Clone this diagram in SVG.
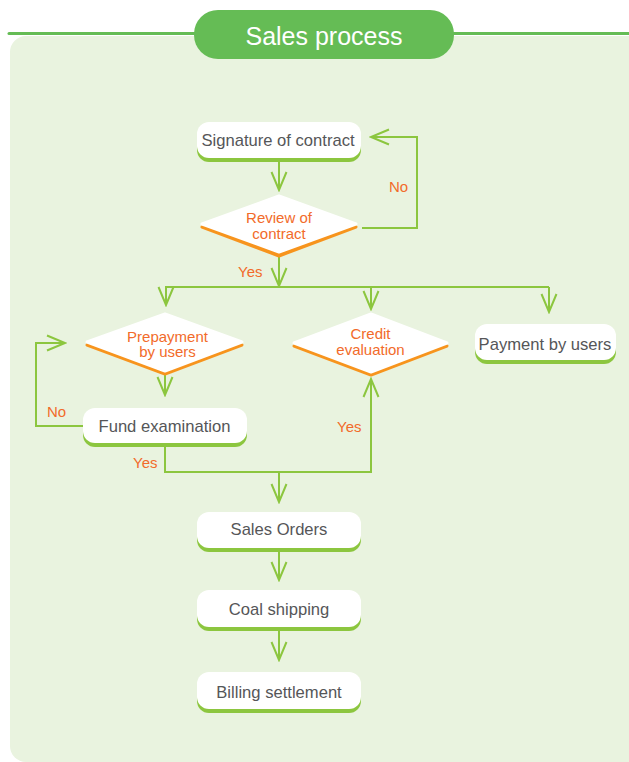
<svg xmlns="http://www.w3.org/2000/svg" width="629" height="762" viewBox="0 0 629 762">
  <defs>
    <style>
      .panel { fill: #e9f3df; }
      .topline { stroke: #65bc55; stroke-width: 3; stroke-linecap: round; fill: none; }
      .pill { fill: #65bc55; }
      .title { font-family: "Liberation Sans", Arial, sans-serif; font-size: 25px; fill: #ffffff; text-anchor: middle; }
      .box { fill: #ffffff; }
      .boxshadow { fill: #8cc63f; }
      .dia { fill: #ffffff; stroke: #ffffff; stroke-width: 3; stroke-linejoin: round; }
      .diashadow { fill: #f7941d; stroke: #f7941d; stroke-width: 3; stroke-linejoin: round; }
      .ntext { font-family: "Liberation Sans", Arial, sans-serif; font-size: 16.6px; fill: #555658; text-anchor: middle; }
      .dtext { font-family: "Liberation Sans", Arial, sans-serif; font-size: 15px; fill: #f26b2a; text-anchor: middle; }
      .lbl { font-family: "Liberation Sans", Arial, sans-serif; font-size: 15px; fill: #f26b2a; }
      .conn { stroke: #8cc63f; stroke-width: 2; fill: none; marker-end: url(#arr); }
      .plain { stroke: #8cc63f; stroke-width: 2; fill: none; }
    </style>
    <marker id="arr" viewBox="-20 -10 22 20" refX="0" refY="0" markerWidth="22" markerHeight="20" markerUnits="userSpaceOnUse" orient="auto">
      <path d="M-18,-7.5 L0,0 L-18,7.5" fill="none" stroke="#8cc63f" stroke-width="2"/>
    </marker>
  </defs>

  <g id="background">
    <rect class="panel" x="10" y="36" width="640" height="726" rx="16"/>
    <line class="topline" x1="9" y1="33.5" x2="629" y2="33.5"/>
  </g>

  <g id="title">
    <rect class="pill" x="194" y="10" width="260" height="49" rx="24"/>
    <text class="title" x="324" y="45">Sales process</text>
  </g>

  <g id="connectors">
    <line class="conn" x1="279" y1="162" x2="279" y2="190"/>
    <path class="conn" d="M362,228 H417 V137 H371"/>
    <line class="conn" x1="279" y1="257" x2="279" y2="286"/>
    <line class="plain" x1="165" y1="287" x2="549" y2="287"/>
    <line class="conn" x1="166" y1="287" x2="166" y2="305"/>
    <line class="conn" x1="371" y1="287" x2="371" y2="309"/>
    <line class="conn" x1="549" y1="287" x2="549" y2="312"/>
    <line class="conn" x1="165" y1="374" x2="165" y2="395"/>
    <path class="conn" d="M83,426 H36 V343 H65"/>
    <path class="conn" d="M165,447 V472 H371 V379"/>
    <line class="conn" x1="279" y1="472" x2="279" y2="502"/>
    <line class="conn" x1="279" y1="552" x2="279" y2="580"/>
    <line class="conn" x1="279" y1="631" x2="279" y2="660"/>
  </g>

  <g id="labels">
    <text class="lbl" x="389" y="192">No</text>
    <text class="lbl" x="238" y="277">Yes</text>
    <text class="lbl" x="47" y="417">No</text>
    <text class="lbl" x="133" y="468">Yes</text>
    <text class="lbl" x="337" y="432">Yes</text>
  </g>

  <g id="signature">
    <rect class="boxshadow" x="197" y="126" width="164" height="36" rx="12"/>
    <rect class="box" x="197" y="122" width="164" height="36" rx="12"/>
    <text class="ntext" x="278" y="146">Signature of contract</text>
  </g>

  <g id="review">
    <polygon class="diashadow" points="202,227 279,198 356,227 279,256"/>
    <polygon class="dia" points="202,224 279,196 356,224 279,252"/>
    <text class="dtext" x="279" y="223">Review of</text>
    <text class="dtext" x="279" y="239">contract</text>
  </g>

  <g id="prepayment">
    <polygon class="diashadow" points="87,345 165,316 242,345 165,374"/>
    <polygon class="dia" points="87,342 165,314 242,342 165,371"/>
    <text class="dtext" x="167.5" y="341.5">Prepayment</text>
    <text class="dtext" x="167.5" y="357">by users</text>
  </g>

  <g id="credit">
    <polygon class="diashadow" points="294,346 371,317 447,346 371,375"/>
    <polygon class="dia" points="294,343 371,314 447,343 371,372"/>
    <text class="dtext" x="370.5" y="338.5">Credit</text>
    <text class="dtext" x="370.5" y="355">evaluation</text>
  </g>

  <g id="payment">
    <rect class="boxshadow" x="475" y="328" width="141" height="36" rx="12"/>
    <rect class="box" x="475" y="324" width="141" height="36" rx="12"/>
    <text class="ntext" x="545" y="349.5">Payment by users</text>
  </g>

  <g id="fund">
    <rect class="boxshadow" x="83" y="412" width="164" height="35" rx="12"/>
    <rect class="box" x="83" y="408" width="164" height="35" rx="12"/>
    <text class="ntext" x="164.5" y="431.5">Fund examination</text>
  </g>

  <g id="sales-orders">
    <rect class="boxshadow" x="197" y="516" width="164" height="36" rx="12"/>
    <rect class="box" x="197" y="512" width="164" height="36" rx="12"/>
    <text class="ntext" x="279" y="535">Sales Orders</text>
  </g>

  <g id="coal-shipping">
    <rect class="boxshadow" x="197" y="594" width="164" height="37" rx="12"/>
    <rect class="box" x="197" y="590" width="164" height="37" rx="12"/>
    <text class="ntext" x="279" y="615">Coal shipping</text>
  </g>

  <g id="billing">
    <rect class="boxshadow" x="197" y="676" width="164" height="37" rx="12"/>
    <rect class="box" x="197" y="672" width="164" height="37" rx="12"/>
    <text class="ntext" x="279" y="698">Billing settlement</text>
  </g>
</svg>
